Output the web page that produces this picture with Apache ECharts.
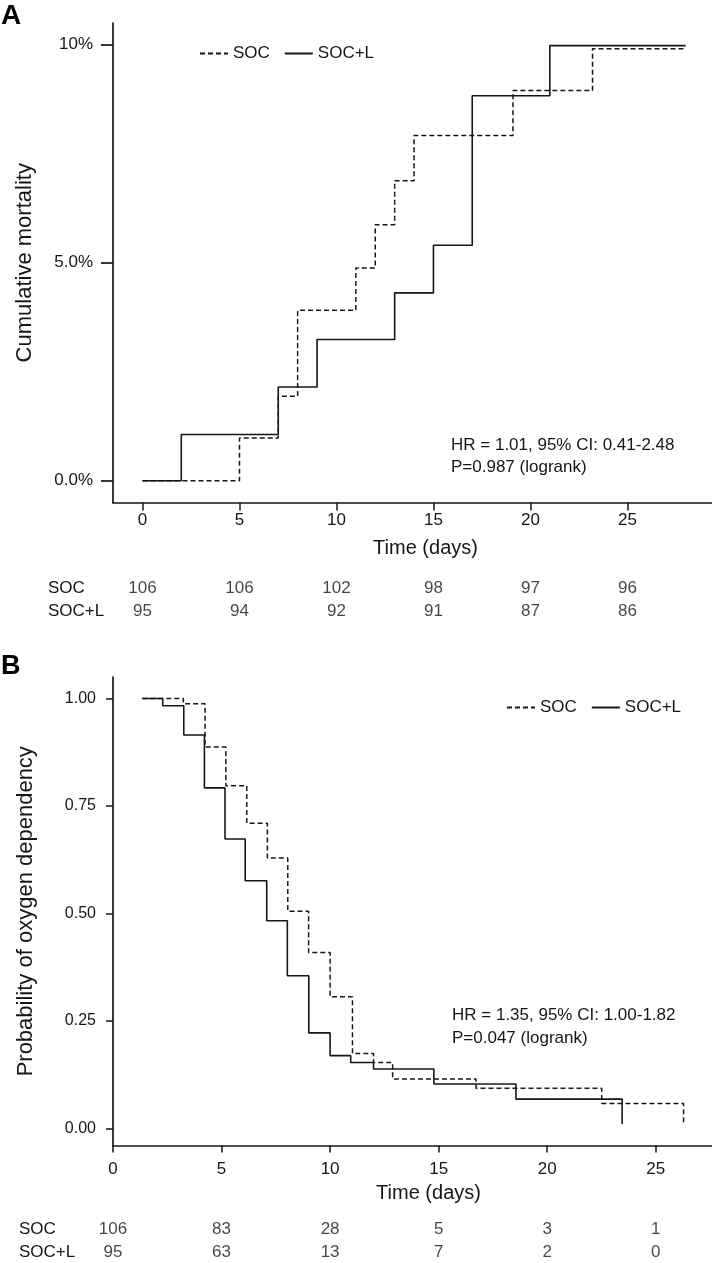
<!DOCTYPE html>
<html>
<head>
<meta charset="utf-8">
<script src="https://cdn.jsdelivr.net/npm/echarts@6/dist/echarts.min.js"></script>
<style>
html,body{margin:0;padding:0;background:#fff;}
#chart{width:712px;height:1263px;}
</style>
</head>
<body>
<div id="chart"></div>
<script>
// ---------- Panel A: cumulative mortality ----------
const xTicksA = [0, 5, 10, 15, 20, 25];
const yTicksA = [0, 5, 10];
const yTickLabelsA = ['0.0%', '5.0%', '10%'];
const socTimeA = [0, 5, 7, 8, 11, 12, 13, 14, 19.1, 23.2, 28];
const socCumA  = [0, 0.98, 1.94, 3.91, 4.88, 5.87, 6.88, 7.92, 8.95, 9.91, 9.91];
const solTimeA = [0, 2, 7, 9, 13, 15, 17, 21, 28];
const solCumA  = [0, 1.06, 2.15, 3.24, 4.31, 5.40, 8.83, 9.98, 9.98];
const riskTimesA = [0, 5, 10, 15, 20, 25];
const riskSocA = [106, 106, 102, 98, 97, 96];
const riskSolA = [95, 94, 92, 91, 87, 86];

// ---------- Panel B: probability of oxygen dependency ----------
const xTicksB = [0, 5, 10, 15, 20, 25];
const yTicksB = [0, 0.25, 0.5, 0.75, 1];
const socTimeB = [1.35, 3.24, 4.24, 5.2, 6.16, 7.11, 8.05, 9.01, 10.0, 11.03, 12.0, 12.88, 16.72, 22.51, 26.28];
const socProbB = [1.0, 0.988, 0.887, 0.797, 0.710, 0.629, 0.505, 0.409, 0.306, 0.174, 0.153, 0.115, 0.093, 0.058, 0.013];
const solTimeB = [1.35, 2.29, 3.26, 4.21, 5.16, 6.09, 7.08, 8.03, 9.02, 10.0, 10.95, 12.0, 14.78, 18.56, 23.45];
const solProbB = [1.0, 0.983, 0.915, 0.792, 0.673, 0.576, 0.483, 0.355, 0.222, 0.169, 0.153, 0.138, 0.103, 0.068, 0.01];
const riskTimesB = [0, 5, 10, 15, 20, 25];
const riskSocB = [106, 83, 28, 5, 3, 1];
const riskSolB = [95, 63, 13, 7, 2, 0];

const groups = ['SOC', 'SOC+L'];
const hrTextA = ['HR = 1.01, 95% CI: 0.41-2.48', 'P=0.987 (logrank)'];
const hrTextB = ['HR = 1.35, 95% CI: 1.00-1.82', 'P=0.047 (logrank)'];

const FONT = 'Liberation Sans';
const INK = '#161616';
const zip = (a, b) => a.map((v, i) => [v, b[i]]);

function riskData(times, soc, sol) {
  return times.map((t, i) => [t, groups[0], soc[i]]).concat(times.map((t, i) => [t, groups[1], sol[i]]));
}

const axisLine = { show: true, onZero: false, lineStyle: { color: INK, width: 1.7 } };
const legendBase = {
  data: groups, itemWidth: 28, itemHeight: 12, itemGap: 14, padding: 0, selectedMode: false,
  itemStyle: { color: 'rgba(0,0,0,0)', borderWidth: 0, opacity: 0 },
  textStyle: { fontSize: 17, color: INK, fontFamily: FONT }
};

const chart = echarts.init(document.getElementById('chart'), null, { renderer: 'canvas' });
const option = {
  animation: false,
  backgroundColor: '#fff',
  textStyle: { fontFamily: FONT, color: INK },
  grid: [
    { left: 113, right: 0, top: 23, height: 479.5 },
    { left: 113, right: 0, top: 677, height: 468.5 },
    { left: 113, right: 0, top: 576.6, height: 46.8 },
    { left: 113, right: 0, top: 1218.3, height: 46.7 }
  ],
  xAxis: [
    { gridIndex: 0, type: 'value', min: -1.52, max: 29.36, axisLine,
      axisTick: { customValues: xTicksA, length: 8, lineStyle: { color: INK, width: 1.5 } },
      axisLabel: { customValues: xTicksA, fontSize: 17, color: INK, margin: 9, fontFamily: FONT },
      splitLine: { show: false },
      name: 'Time (days)', nameLocation: 'middle', nameGap: 36,
      nameTextStyle: { fontSize: 20, color: INK, fontFamily: FONT, padding: [0, 0, 0, 26] } },
    { gridIndex: 1, type: 'value', min: 0, max: 27.59, axisLine,
      axisTick: { customValues: xTicksB, length: 7, lineStyle: { color: INK, width: 1.5 } },
      axisLabel: { customValues: xTicksB, fontSize: 17, color: INK, margin: 15, fontFamily: FONT },
      splitLine: { show: false },
      name: 'Time (days)', nameLocation: 'middle', nameGap: 38,
      nameTextStyle: { fontSize: 20, color: INK, fontFamily: FONT, padding: [0, 0, 0, 32] } },
    { gridIndex: 2, type: 'value', min: -1.52, max: 29.36, show: false },
    { gridIndex: 3, type: 'value', min: 0, max: 27.59, show: false }
  ],
  yAxis: [
    { gridIndex: 0, type: 'value', min: -0.5, max: 10.5, axisLine,
      axisTick: { customValues: yTicksA, length: 12, lineStyle: { color: INK, width: 1.7 } },
      axisLabel: { customValues: yTicksA, fontSize: 17, color: INK, margin: 20, fontFamily: FONT,
        formatter: v => yTickLabelsA[yTicksA.indexOf(v)] },
      splitLine: { show: false },
      name: 'Cumulative mortality', nameLocation: 'middle', nameGap: 77,
      nameTextStyle: { fontSize: 22, color: INK, fontFamily: FONT } },
    { gridIndex: 1, type: 'value', min: -0.04, max: 1.05, axisLine,
      axisTick: { customValues: yTicksB, length: 7, lineStyle: { color: INK, width: 1.5 } },
      axisLabel: { customValues: yTicksB, fontSize: 16, color: INK, margin: 17, fontFamily: FONT,
        formatter: v => v.toFixed(2) },
      splitLine: { show: false },
      name: 'Probability of oxygen dependency', nameLocation: 'middle', nameGap: 76,
      nameTextStyle: { fontSize: 22, color: INK, fontFamily: FONT } },
    { gridIndex: 2, type: 'category', data: groups, inverse: true,
      axisLine: { show: false }, axisTick: { show: false },
      axisLabel: { align: 'left', margin: 65, fontSize: 17, color: INK, fontFamily: FONT } },
    { gridIndex: 3, type: 'category', data: groups, inverse: true,
      axisLine: { show: false }, axisTick: { show: false },
      axisLabel: { align: 'left', margin: 94, fontSize: 17, color: INK, fontFamily: FONT } }
  ],
  legend: [
    Object.assign({}, legendBase, { left: 199, top: 45 }),
    Object.assign({}, legendBase, { left: 506, top: 699 })
  ],
  series: [
    { type: 'line', name: 'SOC', xAxisIndex: 0, yAxisIndex: 0, step: 'end', symbol: 'none',
      data: zip(socTimeA, socCumA), lineStyle: { color: INK, width: 1.5, type: [5, 3] }, itemStyle: { color: INK } },
    { type: 'line', name: 'SOC+L', xAxisIndex: 0, yAxisIndex: 0, step: 'end', symbol: 'none',
      data: zip(solTimeA, solCumA), lineStyle: { color: INK, width: 1.6 }, itemStyle: { color: INK } },
    { type: 'line', name: 'SOC', xAxisIndex: 1, yAxisIndex: 1, step: 'end', symbol: 'none',
      data: zip(socTimeB, socProbB), lineStyle: { color: INK, width: 1.5, type: [5, 3] }, itemStyle: { color: INK } },
    { type: 'line', name: 'SOC+L', xAxisIndex: 1, yAxisIndex: 1, step: 'end', symbol: 'none',
      data: zip(solTimeB, solProbB), lineStyle: { color: INK, width: 1.6 }, itemStyle: { color: INK } },
    { type: 'scatter', name: 'riskA', xAxisIndex: 2, yAxisIndex: 2, symbolSize: 1,
      itemStyle: { color: 'rgba(0,0,0,0)' }, silent: true,
      data: riskData(riskTimesA, riskSocA, riskSolA),
      label: { show: true, position: 'inside', formatter: p => String(p.value[2]), fontSize: 17, color: INK, fontFamily: FONT } },
    { type: 'scatter', name: 'riskB', xAxisIndex: 3, yAxisIndex: 3, symbolSize: 1,
      itemStyle: { color: 'rgba(0,0,0,0)' }, silent: true,
      data: riskData(riskTimesB, riskSocB, riskSolB),
      label: { show: true, position: 'inside', formatter: p => String(p.value[2]), fontSize: 17, color: INK, fontFamily: FONT } }
  ],
  graphic: [
    { type: 'text', left: 1, top: 2, style: { text: 'A', font: 'bold 28px ' + FONT, fill: '#000' } },
    { type: 'text', left: 1, top: 653, style: { text: 'B', font: 'bold 27px ' + FONT, fill: '#000' } },
    { type: 'text', left: 451, top: 434, style: { text: hrTextA.join('\n'), font: '17px ' + FONT, fill: INK, lineHeight: 22 } },
    { type: 'text', left: 452, top: 1004, style: { text: hrTextB.join('\n'), font: '17px ' + FONT, fill: INK, lineHeight: 23 } }
  ]
};
chart.setOption(option);
</script>
</body>
</html>
